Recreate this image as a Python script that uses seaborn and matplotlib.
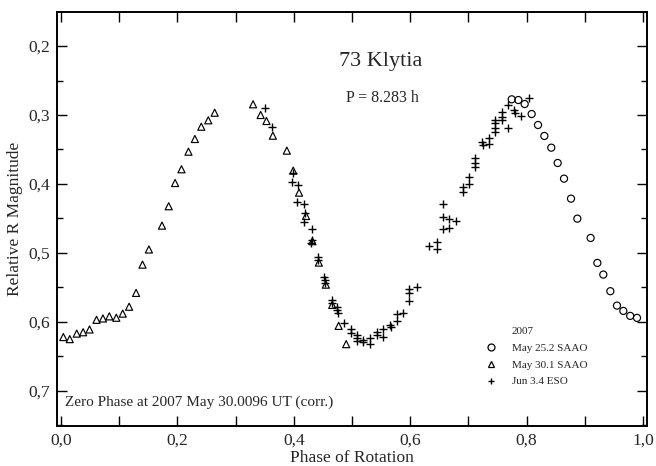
import numpy as np
import pandas as pd
import matplotlib
matplotlib.use("Agg")
import matplotlib.pyplot as plt
import seaborn as sns
from matplotlib.lines import Line2D
from matplotlib.ticker import MultipleLocator, FuncFormatter

# ---- data ----
may25_phase = [0.7744, 0.7858, 0.7967, 0.8087, 0.8196, 0.8305, 0.8424, 0.8534, 0.8643,
               0.8763, 0.8872, 0.9100, 0.9216, 0.9318, 0.9439, 0.9553, 0.9662, 0.9780, 0.9897]
may25_mag = [0.2773, 0.2783, 0.2841, 0.2986, 0.3145, 0.3304, 0.3474, 0.3696, 0.3923,
             0.4213, 0.4503, 0.4783, 0.5145, 0.5314, 0.5555, 0.5764, 0.5841, 0.5913, 0.5942]

may30_phase = [0.004, 0.015, 0.027, 0.038, 0.049, 0.061, 0.072, 0.083, 0.095, 0.106,
               0.117, 0.129, 0.140, 0.151, 0.1735, 0.185, 0.196, 0.207, 0.219, 0.230,
               0.241, 0.253, 0.264, 0.330, 0.343, 0.353, 0.364, 0.388, 0.399, 0.409,
               0.421, 0.432, 0.443, 0.455, 0.466, 0.477, 0.490]
may30_mag = [0.622, 0.625, 0.617, 0.615, 0.611, 0.597, 0.595, 0.592, 0.594, 0.588,
             0.578, 0.558, 0.517, 0.495, 0.4604, 0.4323, 0.3986, 0.3787, 0.3532, 0.3348,
             0.317, 0.3077, 0.2967, 0.2845, 0.300, 0.3087, 0.330, 0.3517, 0.3807, 0.4126,
             0.4464, 0.483, 0.514, 0.546, 0.5754, 0.6058, 0.6323]

jun3_phase = [0.3505, 0.3625, 0.398, 0.397, 0.408, 0.406, 0.4175, 0.419, 0.4175, 0.4307,
              0.4307, 0.4296, 0.442, 0.442, 0.452, 0.453, 0.453, 0.4656, 0.4656, 0.4748,
              0.4748, 0.4754, 0.4868, 0.4983, 0.4983, 0.509, 0.509, 0.509, 0.5195, 0.5195,
              0.531, 0.531, 0.5424, 0.5435, 0.5538, 0.5538, 0.5653, 0.5665, 0.5768, 0.5768,
              0.588, 0.5985, 0.5985, 0.611, 0.5985, 0.633, 0.6455, 0.6455, 0.656, 0.656,
              0.656, 0.667, 0.667, 0.679, 0.690, 0.690, 0.7015, 0.7015, 0.7113, 0.7113,
              0.7113, 0.7245, 0.723, 0.736, 0.736, 0.7457, 0.7457, 0.7457, 0.7457, 0.757,
              0.757, 0.757, 0.7686, 0.7686, 0.7784, 0.780, 0.790, 0.8035]
jun3_mag = [0.2894, 0.317, 0.3845, 0.3966, 0.4015, 0.4256, 0.4295, 0.4425, 0.4546, 0.4657,
            0.4812, 0.486, 0.5053, 0.510, 0.535, 0.539, 0.543, 0.568, 0.572, 0.5778,
            0.5826, 0.5874, 0.6019, 0.6106, 0.6154, 0.6188, 0.6236, 0.627, 0.6261, 0.6285,
            0.6236, 0.6319, 0.614, 0.6188, 0.6106, 0.6213, 0.6043, 0.6077, 0.5884, 0.5981,
            0.5865, 0.5526, 0.5575, 0.5488, 0.5691, 0.4899, 0.4836, 0.4942, 0.4295, 0.4474,
            0.4657, 0.4512, 0.4633, 0.4536, 0.404, 0.411, 0.3894, 0.4004, 0.3628, 0.370,
            0.3749, 0.3435, 0.3387, 0.3338, 0.3425, 0.3072, 0.312, 0.3183, 0.3241, 0.2952,
            0.3024, 0.3072, 0.2855, 0.3193, 0.2928, 0.2976, 0.301, 0.2749]

legend_labels = ["May 25.2 SAAO", "May 30.1 SAAO", "Jun 3.4 ESO"]
legend_title = "2007"
title_text = "73 Klytia"
period_text = "P = 8.283 h"
zero_text = "Zero Phase at 2007 May 30.0096 UT (corr.)"

# ---- plot ----
sns.set_style("ticks")
plt.rcParams["font.family"] = ["Liberation Serif", "DejaVu Serif"]

fig = plt.figure(figsize=(6.56, 4.66), dpi=100)
ax = fig.add_axes([0.0869, 0.0858, 0.8994, 0.8884])

df25 = pd.DataFrame({"phase": may25_phase, "mag": may25_mag})
df30 = pd.DataFrame({"phase": may30_phase, "mag": may30_mag})
dfj3 = pd.DataFrame({"phase": jun3_phase, "mag": jun3_mag})

ms = 26
sns.scatterplot(data=df25, x="phase", y="mag", marker="o", s=ms, facecolor="none",
                edgecolor="black", linewidth=0.85, ax=ax, legend=False, zorder=3)
sns.scatterplot(data=df30, x="phase", y="mag", marker="^", s=ms, facecolor="none",
                edgecolor="black", linewidth=0.85, ax=ax, legend=False, zorder=3)
sns.scatterplot(data=dfj3, x="phase", y="mag", marker="+", s=ms + 4, color="black",
                linewidth=1.0, ax=ax, legend=False, zorder=3)

ax.set_xlim(-0.0069, 1.0069)
ax.set_ylim(0.751, 0.1507)

comma = FuncFormatter(lambda v, p: f"{v:.1f}".replace(".", ","))
ax.xaxis.set_major_locator(MultipleLocator(0.2))
ax.xaxis.set_minor_locator(MultipleLocator(0.1))
ax.yaxis.set_major_locator(MultipleLocator(0.1))
ax.yaxis.set_minor_locator(MultipleLocator(0.05))
ax.xaxis.set_major_formatter(comma)
ax.yaxis.set_major_formatter(comma)
ax.tick_params(which="both", direction="in", top=True, right=True, color="black")
ax.tick_params(which="major", length=7, width=1.0, labelsize=12.5, pad=5)
ax.tick_params(axis="x", which="minor", length=7, width=1.0)
ax.tick_params(axis="y", which="minor", length=4.5, width=1.0)
for sp in ax.spines.values():
    sp.set_linewidth(1.4)
    sp.set_color("black")

ax.set_xlabel("Phase of Rotation", fontsize=12.5, labelpad=1)
ax.set_ylabel("Relative R Magnitude", fontsize=12.5, labelpad=4)

ax.text(0.55, 0.223, title_text, ha="center", va="center", fontsize=16)
ax.text(0.553, 0.2754, period_text, ha="center", va="center", fontsize=11.5)
ax.text(0.007, 0.717, zero_text, ha="left", va="center", fontsize=11)

handles = [
    Line2D([], [], ls="none", marker=None),
    Line2D([], [], marker="o", ls="none", mfc="none", mec="black", ms=5, mew=0.9),
    Line2D([], [], marker="^", ls="none", mfc="none", mec="black", ms=5, mew=0.9),
    Line2D([], [], marker="+", ls="none", color="black", ms=5, mew=1.0),
]
leg = ax.legend(handles, [legend_title] + legend_labels, frameon=False,
                fontsize=8, loc="upper left",
                bbox_to_anchor=(0.716, 0.240), handletextpad=0.9,
                labelspacing=0.62, borderaxespad=0, borderpad=0)

fig.savefig("out.png", dpi=100)
